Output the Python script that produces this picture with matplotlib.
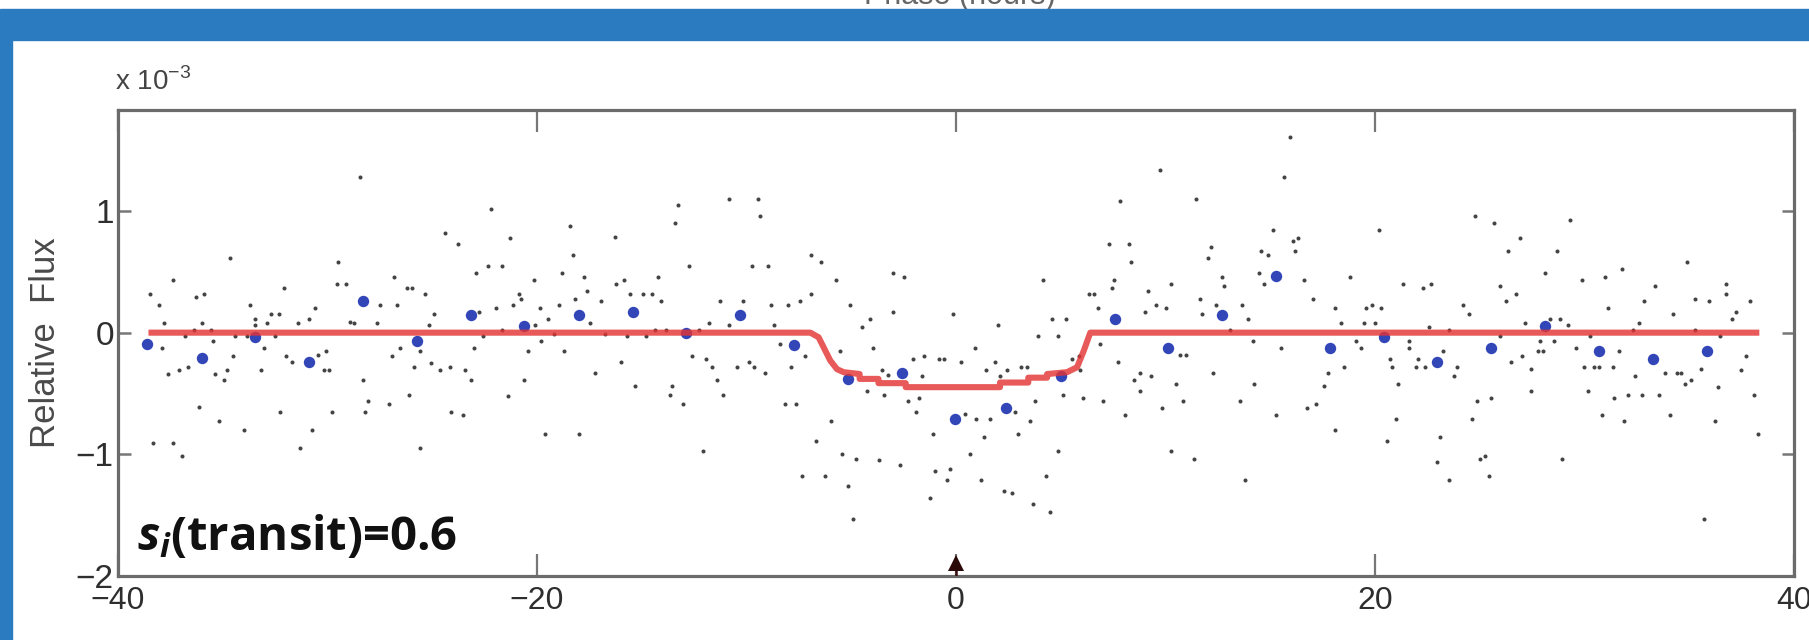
import matplotlib
matplotlib.use('Agg')
import matplotlib.pyplot as plt
from matplotlib.patches import Rectangle

# binned means (blue)
bin_phase = [-38.6, -36.0, -33.45, -30.9, -28.3, -25.73, -23.15, -20.6, -18.0, -15.43,
             -12.87, -10.29, -7.75, -5.17, -2.58, -0.03, 2.4, 5.0, 7.58, 10.14,
             12.72, 15.29, 17.87, 20.42, 22.96, 25.54, 28.13, 30.71, 33.26, 35.85]
bin_flux = [-0.093, -0.208, -0.038, -0.243, 0.257, -0.071, 0.142, 0.055, 0.142, 0.169,
            -0.005, 0.142, -0.098, -0.383, -0.333, -0.708, -0.62, -0.358, 0.109, -0.126,
            0.142, 0.462, -0.126, -0.038, -0.243, -0.126, 0.057, -0.153, -0.213, -0.148]

# transit model (red)
model_phase = [-38.4, -6.95, -6.56, -6.32, -6.0, -5.68, -5.36, -4.6, -4.6, -3.7, -3.7,
               -2.4, -2.4, 0.0, 2.1, 2.1, 3.45, 3.45, 4.35, 4.35, 5.3, 5.78, 6.1, 6.41, 38.2]
model_flux = [0, 0, -0.038, -0.12, -0.23, -0.30, -0.325, -0.34, -0.38, -0.38, -0.415,
              -0.415, -0.448, -0.448, -0.448, -0.41, -0.41, -0.37, -0.37, -0.34, -0.325,
              -0.284, -0.148, 0, 0]

# raw photometry points (small gray dots)
raw_phase = [
    # -40 .. -20
    -28.44, -22.2, -24.38, -23.79, -21.28, -34.67, -29.52, -22.9, -22.36, -21.67,
    -37.38, -26.81, -20.16, -38.49, -36.26, -35.88, -32.09, -29.55, -29.1, -26.21,
    -25.97, -25.33, -20.88, -20.77, -38.06, -33.69, -30.58, -27.48, -26.68, -21.94,
    -21.15, -22.79, -24.93, -37.79, -36.0, -33.45, -33.45, -32.89, -32.7, -32.33,
    -31.43, -30.9, -28.91, -28.75, -27.64, -25.17, -20.08, -36.79, -36.39, -35.56,
    -34.4, -33.84, -32.49, -22.58, -21.67, -37.9, -35.47, -33.05, -30.06, -30.47,
    -26.53, -26.92, -25.6, -22.99, -20.45, -34.51, -31.97, -31.7, -37.63, -37.11,
    -36.68, -35.36, -34.8, -34.96, -33.18, -30.19, -29.95, -25.86, -25.06, -24.65,
    -24.14, -23.42, -23.15, -20.6, -28.31, -26.13, -28.08, -27.08, -21.4, -36.15,
    -32.25, -29.79, -28.2, -24.11, -23.53, -35.2, -34.0, -30.74, -38.33, -37.38,
    -36.95, -31.3, -25.6,
    # -20 .. 0
    -10.85, -9.47, -9.37, -13.29, -13.4, -18.44, -16.26, -18.28, -6.92, -6.44,
    -12.73, -9.74, -8.99, -18.81, -17.74, -14.24, -5.71, -3.01, -2.47, -16.21,
    -15.83, -17.61, -15.58, -14.94, -14.51, -6.92, -18.17, -16.95, -14.08, -11.28,
    -10.17, -8.83, -8.04, -7.46, -5.04, -3.01, -0.14, -18.97, -19.87, -19.49,
    -17.45, -11.81, -10.85, -4.49, -4.09, -8.67, -19.81, -19.2, -16.74, -15.7,
    -14.78, -14.35, -13.83, -12.28, -18.7, -15.99, -17.22, -12.6, -11.92, -11.65,
    -10.45, -9.9, -9.63, -9.1, -8.42, -7.88, -7.19, -5.55, -3.96, -3.53,
    -3.26, -2.05, -1.51, -0.83, -0.56, -1.62, -15.31, -13.56, -13.67, -11.41,
    -11.12, -13.03, -8.15, -7.62, -4.25, -3.42, -2.31, -1.78, -1.89, -5.97,
    -1.1, -19.6, -18.01, -6.67, -12.08, -5.44, -4.76, -3.69, -2.69, -7.35,
    -6.24, -0.99, -0.27, -0.43, -5.17, -1.26, -4.92,
    # 0 .. 20
    15.93, 9.72, 15.64, 7.85, 11.47, 15.13, 16.09, 16.31, 16.2, 7.29,
    8.24, 8.36, 12.17, 12.01, 14.56, 14.88, 14.45, 14.72, 12.7, 12.81,
    16.63, 18.79, 4.15, 7.56, 7.45, 10.26, 9.15, 6.33, 6.6, 6.76,
    9.56, 10.0, 9.04, 11.63, 12.43, 13.65, 17.04, 18.11, 19.59, 19.86,
    1.99, 4.58, 5.27, 11.74, 13.92, 18.38, 19.46, 20.02, 3.9, 4.85,
    0.92, 6.89, 13.1, 14.18, 15.51, 19.11, 19.33, 10.68, 11.0, 0.24,
    1.45, 1.88, 2.44, 3.1, 3.39, 2.09, 5.54, 5.86, 5.94, 7.72,
    8.77, 8.51, 9.31, 8.77, 12.27, 10.52, 14.21, 17.74, 18.54, 17.58,
    5.11, 6.06, 7.02, 3.79, 10.84, 13.54, 9.84, 8.08, 15.29, 17.2,
    16.76, 18.11, 0.45, 0.97, 1.61, 2.83, 3.52, 2.95, 1.35, 0.65,
    4.85, 10.26, 11.35, 1.2, 4.31, 2.28, 2.68, 3.68, 4.47, 13.81,
    # 20 .. 40
    24.75, 25.67, 29.33, 20.18, 26.91, 26.34, 28.69, 28.13, 34.9, 31.79,
    31.0, 29.88, 21.34, 22.3, 22.68, 25.95, 26.75, 33.38, 36.77, 36.77,
    24.2, 26.23, 24.48, 35.29, 35.93, 37.89, 32.83, 20.29, 31.11, 34.23,
    37.25, 37.04, 27.18, 28.82, 28.37, 29.2, 32.59, 22.57, 23.52, 25.95,
    30.28, 32.32, 35.29, 36.49, 21.61, 21.61, 27.86, 28.53, 23.25, 27.77,
    28.02, 29.61, 31.63, 27.02, 37.73, 20.7, 20.82, 22.04, 21.98, 22.41,
    23.92, 23.79, 26.5, 27.45, 29.99, 30.44, 30.68, 31.36, 32.43, 33.86,
    34.42, 34.61, 34.82, 35.06, 35.56, 37.47, 21.09, 27.45, 30.16, 25.54,
    24.87, 31.43, 32.06, 32.75, 33.54, 36.36, 38.08, 20.98, 24.63, 30.84,
    31.9, 34.1, 36.25, 20.55, 23.12, 38.27, 22.96, 23.52, 25.03, 25.27,
    25.43, 28.93, 35.72,
]
raw_flux = [
    # -40 .. -20
    1.28, 1.02, 0.82, 0.73, 0.78, 0.61, 0.58, 0.49, 0.55, 0.55,
    0.43, 0.46, 0.43, 0.32, 0.29, 0.32, 0.37, 0.40, 0.40, 0.37,
    0.37, 0.32, 0.32, 0.28, 0.23, 0.23, 0.20, 0.23, 0.23, 0.20,
    0.23, 0.17, 0.15, 0.08, 0.08, 0.11, 0.06, 0.08, 0.15, 0.15,
    0.08, 0.11, 0.09, 0.08, 0.08, 0.06, 0.06, -0.03, 0.02, 0.02,
    -0.03, -0.03, -0.03, -0.03, 0.02, -0.13, -0.07, -0.13, -0.15, -0.18,
    -0.13, -0.19, -0.15, -0.13, -0.15, -0.19, -0.19, -0.24, -0.34, -0.31,
    -0.28, -0.34, -0.31, -0.39, -0.31, -0.31, -0.31, -0.28, -0.25, -0.31,
    -0.28, -0.31, -0.39, -0.39, -0.39, -0.51, -0.56, -0.59, -0.52, -0.61,
    -0.65, -0.65, -0.65, -0.65, -0.68, -0.73, -0.80, -0.80, -0.91, -0.91,
    -1.01, -0.95, -0.95,
    # -20 .. 0
    1.10, 1.10, 0.96, 1.05, 0.90, 0.88, 0.79, 0.64, 0.64, 0.58,
    0.55, 0.55, 0.55, 0.49, 0.46, 0.46, 0.43, 0.49, 0.46, 0.40,
    0.43, 0.34, 0.32, 0.32, 0.32, 0.32, 0.28, 0.26, 0.26, 0.26,
    0.26, 0.23, 0.23, 0.26, 0.23, 0.17, 0.15, 0.23, 0.20, 0.11,
    0.08, 0.08, 0.06, 0.05, 0.11, 0.06, -0.07, -0.01, -0.01, -0.03,
    -0.03, 0.02, 0.02, 0.02, -0.15, -0.24, -0.33, -0.19, -0.22, -0.28,
    -0.28, -0.24, -0.28, -0.33, -0.09, -0.28, -0.19, -0.15, -0.13, -0.31,
    -0.35, -0.22, -0.19, -0.22, -0.22, -0.36, -0.44, -0.44, -0.51, -0.39,
    -0.51, -0.59, -0.59, -0.59, -0.48, -0.51, -0.56, -0.54, -0.65, -0.73,
    -0.83, -0.83, -0.83, -0.89, -0.97, -1.00, -1.04, -1.05, -1.09, -1.18,
    -1.18, -1.14, -1.12, -1.21, -1.26, -1.36, -1.53,
    # 0 .. 20
    1.61, 1.34, 1.28, 1.08, 1.10, 0.84, 0.75, 0.78, 0.67, 0.73,
    0.73, 0.58, 0.70, 0.61, 0.67, 0.64, 0.49, 0.40, 0.46, 0.38,
    0.43, 0.46, 0.43, 0.43, 0.37, 0.40, 0.34, 0.32, 0.32, 0.20,
    0.23, 0.20, 0.17, 0.28, 0.23, 0.23, 0.28, 0.20, 0.20, 0.23,
    0.06, 0.11, 0.11, 0.15, 0.11, 0.08, 0.08, 0.08, -0.03, -0.03,
    -0.13, -0.09, 0.02, -0.07, -0.13, -0.07, -0.13, -0.18, -0.18, -0.24,
    -0.31, -0.24, -0.31, -0.28, -0.28, -0.36, -0.22, -0.19, -0.31, -0.24,
    -0.33, -0.39, -0.36, -0.48, -0.33, -0.42, -0.42, -0.33, -0.28, -0.44,
    -0.51, -0.54, -0.56, -0.56, -0.56, -0.56, -0.62, -0.68, -0.68, -0.59,
    -0.62, -0.80, -0.67, -0.71, -0.71, -0.65, -0.73, -0.83, -0.86, -1.00,
    -0.97, -0.97, -1.04, -1.21, -1.18, -1.30, -1.32, -1.41, -1.47, -1.21,
    # 20 .. 40
    0.96, 0.90, 0.93, 0.84, 0.78, 0.67, 0.67, 0.49, 0.58, 0.52,
    0.46, 0.43, 0.40, 0.37, 0.40, 0.38, 0.32, 0.38, 0.40, 0.32,
    0.23, 0.26, 0.15, 0.28, 0.26, 0.26, 0.26, 0.20, 0.20, 0.15,
    0.17, 0.11, 0.08, 0.11, 0.11, 0.06, 0.08, 0.05, 0.02, -0.03,
    -0.03, 0.02, 0.02, -0.03, -0.07, -0.13, -0.07, -0.07, -0.15, -0.15,
    -0.15, -0.13, -0.15, -0.19, -0.19, -0.22, -0.28, -0.22, -0.28, -0.28,
    -0.28, -0.36, -0.24, -0.30, -0.28, -0.28, -0.28, -0.28, -0.36, -0.33,
    -0.33, -0.33, -0.42, -0.39, -0.30, -0.31, -0.42, -0.48, -0.48, -0.54,
    -0.56, -0.54, -0.51, -0.51, -0.51, -0.45, -0.51, -0.71, -0.71, -0.68,
    -0.73, -0.68, -0.73, -0.89, -0.86, -0.83, -1.06, -1.21, -1.04, -1.01,
    -1.18, -1.04, -1.53,
]

x_ticks = [-40, -20, 0, 20, 40]
y_ticks = [-2, -1, 0, 1]

plt.rcParams['font.family'] = ['Liberation Sans', 'DejaVu Sans']
plt.rcParams['mathtext.fontset'] = 'custom'
plt.rcParams['mathtext.rm'] = 'Liberation Sans'
plt.rcParams['mathtext.it'] = 'Open Sans:italic:bold'
plt.rcParams['mathtext.bf'] = 'Open Sans:bold'

W, H = 1809, 640
fig = plt.figure(figsize=(W / 100, H / 100), dpi=100)
fig.patch.set_facecolor('white')

# slide decoration: cut-off title text and blue frame
fig.text(960 / W, 1 - 4 / H, 'Phase (hours)', ha='center', va='baseline',
         fontsize=22, color='#666666', zorder=1)
fig.add_artist(Rectangle((0, 1 - 40 / H), 1, 31 / H, transform=fig.transFigure,
                         color='#2a7bc0', zorder=5))
fig.add_artist(Rectangle((0, 0), 12 / W, 1 - 40 / H, transform=fig.transFigure,
                         color='#2a7bc0', zorder=5))

ax = fig.add_axes([118 / W, 64 / H, 1676 / W, 466 / H])

ax.plot(raw_phase, raw_flux, 'o', ms=2.9, mew=0, color='#444444', zorder=2)
ax.plot(bin_phase, bin_flux, 'o', ms=8.2, mew=0, color='#3346b8', zorder=3)
ax.plot(model_phase, model_flux, '-', lw=4.4, color='#e33434', alpha=0.82,
        solid_joinstyle='round', zorder=4)

# mid-transit marker
ax.plot([0, 0], [-2, -1.9], color='#3a1010', lw=1.8, zorder=5)
ax.plot([0], [-1.89], '^', ms=12, color='#2a0808', mew=0, zorder=5)

ax.set_xlim(-40, 40)
ax.set_ylim(-2, 1.83)
ax.set_xticks(x_ticks)
ax.set_yticks(y_ticks)

for s in ax.spines.values():
    s.set_color('#6b6b6b')
    s.set_linewidth(2.3)
ax.tick_params(axis='x', direction='in', length=16, width=1.6, color='#777777',
               top=True, labelsize=23, labelcolor='#2e2e2e', pad=7)
ax.tick_params(axis='y', direction='in', length=9, width=1.8, color='#777777',
               right=True, labelsize=24, labelcolor='#2e2e2e', pad=3)

ax.set_ylabel('Relative  Flux', fontsize=25, color='#4a4a4a', labelpad=10)

ax.text(-0.002, 1.043, r'x 10$^{-3}$', transform=ax.transAxes, ha='left',
        va='baseline', fontsize=20, color='#444444')

ax.text(0.0113, 0.055, r'$s_i$(transit)=0.6', transform=ax.transAxes, ha='left',
        va='baseline', fontsize=34, fontweight='bold', color='#111111',
        family=['Open Sans', 'DejaVu Sans'], zorder=6)

fig.savefig('out.png', dpi=100, facecolor='white')
